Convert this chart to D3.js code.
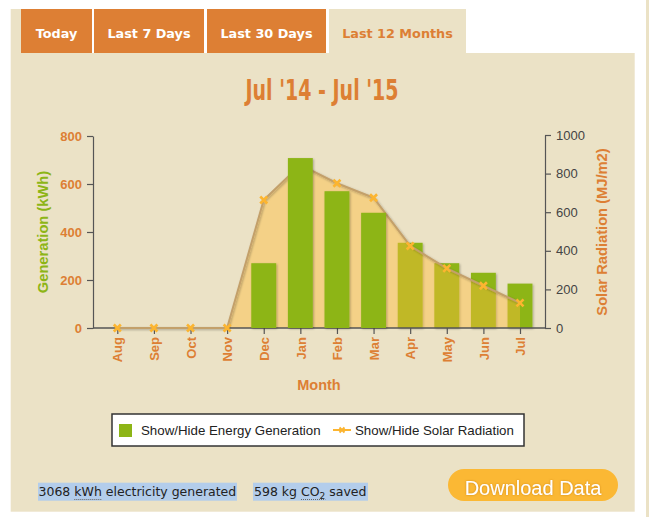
<!DOCTYPE html>
<html>
<head>
<meta charset="utf-8">
<script src="https://cdn.jsdelivr.net/npm/d3@7"></script>
<style>
  body { margin: 0; background: #fff; }
  svg { display: block; }
</style>
</head>
<body>
<svg id="chart" width="652" height="517"></svg>
<script>
// 12 month view: generation bars (left axis) + solar radiation area (right axis)

const months = ["Aug","Sep","Oct","Nov","Dec","Jan","Feb","Mar","Apr","May","Jun","Jul"];
const generation = [0, 0, 0, 0, 270, 708, 570, 480, 355, 270, 230, 185];   // kWh
const radiation = [0, 0, 0, 0, 663, 845, 750, 675, 425, 309, 219, 130];    // MJ/m2
const genTicks = [0, 200, 400, 600, 800];
const radTicks = [0, 200, 400, 600, 800, 1000];
const tabNames = ["Today", "Last 7 Days", "Last 30 Days", "Last 12 Months"];
const period = "Jul '14 - Jul '15";
const totalKwh = 3068;
const co2Kg = 598;

// layout
const tabBoxes = [[21, 92], [94, 204], [207, 326], [329, 466]];
const orange = "#dd7f34";
const green = "#8db516";
const sun = "#fcb530";
const beige = "#ebe2c6";
const labelFont = "'Liberation Sans', Arial, sans-serif";

let svg = d3.select("#chart");

let defs = svg.append("defs");
let sh = defs.append("filter").attr("id","shadow").attr("x","-20%").attr("y","-20%").attr("width","140%").attr("height","140%");
sh.append("feDropShadow").attr("dx",1).attr("dy",1).attr("stdDeviation",1.2)
  .attr("flood-color","#000").attr("flood-opacity",0.28);
let glow = defs.append("filter").attr("id","glow");
glow.append("feDropShadow").attr("dx",0).attr("dy",0).attr("stdDeviation",0.8)
  .attr("flood-color","#b86d00").attr("flood-opacity",0.6);

//panel background
svg.append("rect").attr("x",10.7).attr("y",53).attr("width",624).attr("height",458.7).attr("fill",beige);
svg.append("rect").attr("x",10.7).attr("y",9).attr("width",10.3).attr("height",44).attr("fill",beige);
svg.append("rect").attr("x",646).attr("y",0).attr("width",3).attr("height",517).attr("fill",beige);

//tabs
tabNames.forEach((t,i) => {
  let b = tabBoxes[i];
  let active = i === tabNames.length - 1;
  svg.append("rect")
    .attr("x",b[0]).attr("y",9).attr("width",b[1]-b[0]).attr("height",44)
    .attr("fill", active ? beige : orange);
  svg.append("text")
    .attr("x",(b[0]+b[1])/2).attr("y",37.5)
    .attr("text-anchor","middle")
    .attr("font-family","'DejaVu Sans', Verdana, sans-serif")
    .attr("font-weight","bold").attr("font-size","12.8px")
    .attr("fill", active ? orange : "#fff")
    .text(t);
});

//title
svg.append("text")
  .attr("x",322).attr("y",100)
  .attr("text-anchor","middle")
  .attr("font-family","'DejaVu Sans Condensed', sans-serif")
  .attr("font-weight","bold")
  .attr("font-size","29px")
  .attr("textLength",153).attr("lengthAdjust","spacingAndGlyphs")
  .attr("fill",orange)
  .text(period);

//scales
let x = d3.scalePoint().domain(months).range([117.3, 520]);
let barW = x.step()*0.68;
let yL = d3.scaleLinear().domain([0,800]).range([328,136]);
let yR = d3.scaleLinear().domain([0,1000]).range([328,135]);

//layers: later-month bars sit under the radiation series, earlier ones above it
let barsBack = svg.append("g");
let areaG = svg.append("g");
let axesG = svg.append("g");
let lineG = svg.append("g");
let barsFront = svg.append("g");

let bars = months.map((m,i) => ({m:m, v:generation[i], i:i})).filter(d => d.v > 0);

function drawBars(g, rows){
  g.selectAll("rect").data(rows).enter().append("rect")
    .attr("x", d => x(d.m) - barW/2)
    .attr("y", d => yL(d.v))
    .attr("width", barW)
    .attr("height", d => yL(0) - yL(d.v))
    .attr("fill", green)
    .attr("filter","url(#shadow)");
}
drawBars(barsBack, bars.filter(d => d.i >= 8));
drawBars(barsFront, bars.filter(d => d.i < 8));

let pts = months.map((m,i) => [m, radiation[i]]);

let area = d3.area()
  .x(d => x(d[0]))
  .y0(yR(0))
  .y1(d => yR(d[1]));
let line = d3.line()
  .x(d => x(d[0]))
  .y(d => yR(d[1]));

areaG.append("path").datum(pts)
  .attr("d",area)
  .attr("fill","#ffbd39")
  .attr("fill-opacity",0.45);

//axes
let axisCol = "#555";
let xAxis = d3.axisBottom(x).tickSize(6).tickSizeOuter(0);
let gx = axesG.append("g").attr("transform","translate(0,328)").call(xAxis);
gx.select(".domain").remove();
gx.selectAll(".tick line").attr("stroke",axisCol).attr("stroke-width",1.2);
gx.selectAll(".tick text")
  .attr("transform","translate(0,9) rotate(-90)")
  .attr("x",0).attr("y",0).attr("dy","0.36em")
  .attr("text-anchor","end")
  .attr("font-family",labelFont).attr("font-weight","bold").attr("font-size","13px")
  .attr("fill",orange);
axesG.append("line").attr("x1",93).attr("x2",545).attr("y1",328).attr("y2",328)
  .attr("stroke",axisCol).attr("stroke-width",1.5);

let gl = axesG.append("g").attr("transform","translate(93,0)")
  .call(d3.axisLeft(yL).tickValues(genTicks).tickSize(6).tickSizeOuter(0).tickPadding(5));
gl.select(".domain").attr("stroke",axisCol).attr("stroke-width",1.2);
gl.selectAll(".tick line").attr("stroke",axisCol).attr("stroke-width",1.2);
gl.selectAll(".tick text")
  .attr("font-family",labelFont).attr("font-weight","bold").attr("font-size","13px")
  .attr("fill",orange);

let gr = axesG.append("g").attr("transform","translate(545,0)")
  .call(d3.axisRight(yR).tickValues(radTicks).tickFormat(d3.format("d")).tickSize(6).tickSizeOuter(0).tickPadding(5));
gr.select(".domain").attr("stroke",axisCol).attr("stroke-width",1.2);
gr.selectAll(".tick line").attr("stroke",axisCol).attr("stroke-width",1.2);
gr.selectAll(".tick text")
  .attr("font-family",labelFont).attr("font-size","13px")
  .attr("fill","#444");

//radiation line + markers
lineG.append("path").datum(pts)
  .attr("d",line)
  .attr("fill","none")
  .attr("stroke","#c3a06a")
  .attr("stroke-width",2)
  .attr("stroke-linejoin","round")
  .attr("filter","url(#shadow)");

let cross = "M-3.5,-3.5L3.5,3.5M-3.5,3.5L3.5,-3.5";
lineG.append("g").selectAll("path").data(pts).enter().append("path")
  .attr("transform", d => "translate("+x(d[0])+","+yR(d[1])+")")
  .attr("d",cross)
  .attr("stroke",sun)
  .attr("stroke-width",2.6);

//axis titles
svg.append("text")
  .attr("transform","translate(43,232) rotate(-90)")
  .attr("text-anchor","middle").attr("dy","0.35em")
  .attr("font-family",labelFont).attr("font-weight","bold").attr("font-size","14.7px")
  .attr("fill",green)
  .text("Generation (kWh)");
svg.append("text")
  .attr("transform","translate(602,232) rotate(-90)")
  .attr("text-anchor","middle").attr("dy","0.35em")
  .attr("font-family",labelFont).attr("font-weight","bold").attr("font-size","14.7px")
  .attr("fill",orange)
  .text("Solar Radiation (MJ/m2)");
svg.append("text")
  .attr("x",319).attr("y",390)
  .attr("text-anchor","middle")
  .attr("font-family",labelFont).attr("font-weight","bold").attr("font-size","14.5px")
  .attr("fill",orange)
  .text("Month");

//legend
let lg = svg.append("g");
lg.append("rect").attr("x",112).attr("y",414).attr("width",412).attr("height",32)
  .attr("fill","#fff").attr("stroke","#333").attr("stroke-width",1.5);
lg.append("rect").attr("x",119).attr("y",424).attr("width",13).attr("height",13).attr("fill",green);
lg.append("text").attr("x",141).attr("y",435)
  .attr("font-family",labelFont).attr("font-size","13.3px").attr("fill","#222")
  .text("Show/Hide Energy Generation");
lg.append("line").attr("x1",333).attr("x2",351).attr("y1",430).attr("y2",430)
  .attr("stroke",sun).attr("stroke-width",2);
lg.append("path").attr("transform","translate(342,430)").attr("d","M-2.5,-2.5L2.5,2.5M-2.5,2.5L2.5,-2.5")
  .attr("stroke",sun).attr("stroke-width",2);
lg.append("text").attr("x",355).attr("y",435)
  .attr("font-family",labelFont).attr("font-size","13.3px").attr("fill","#222")
  .text("Show/Hide Solar Radiation");

//totals (selected text look)
let sel = "#b3cdeb";
svg.append("rect").attr("x",38).attr("y",482.7).attr("width",199).attr("height",18).attr("fill",sel);
svg.append("rect").attr("x",253).attr("y",482.7).attr("width",115).attr("height",18).attr("fill",sel);
let ft = "'DejaVu Sans', Tahoma, sans-serif";
let t1 = svg.append("text").attr("x",38.5).attr("y",496)
  .attr("font-family",ft).attr("font-size","12.5px").attr("fill","#222");
t1.append("tspan").text(totalKwh+" ");
t1.append("tspan").text("kWh");
t1.append("tspan").text(" electricity generated");
let t2 = svg.append("text").attr("x",254).attr("y",496)
  .attr("font-family",ft).attr("font-size","12.5px").attr("fill","#222");
t2.append("tspan").text(co2Kg+" kg ");
t2.append("tspan").text("CO");
t2.append("tspan").attr("font-size","9px").attr("dy",3).text("2");
t2.append("tspan").attr("dy",-3).text(" saved");

//dotted underline for abbreviations
function dotted(textSel, from, len){
  let node = textSel.node();
  let x0 = +textSel.attr("x") + node.getSubStringLength(0, from);
  let w = node.getSubStringLength(from, len);
  svg.append("line").attr("x1",x0).attr("x2",x0+w).attr("y1",499.5).attr("y2",499.5)
    .attr("stroke","#666").attr("stroke-width",1).attr("stroke-dasharray","1,1");
}
dotted(t1, String(totalKwh).length+1, 3);
dotted(t2, String(co2Kg).length+4, 3);

//download button
svg.append("rect").attr("x",448).attr("y",469).attr("width",170).attr("height",32).attr("rx",16)
  .attr("fill","#fbb834");
svg.append("text").attr("x",533).attr("y",494.5)
  .attr("text-anchor","middle")
  .attr("font-family",labelFont).attr("font-size","20px").attr("fill","#fff")
  .attr("filter","url(#glow)")
  .text("Download Data");
</script>
</body>
</html>
